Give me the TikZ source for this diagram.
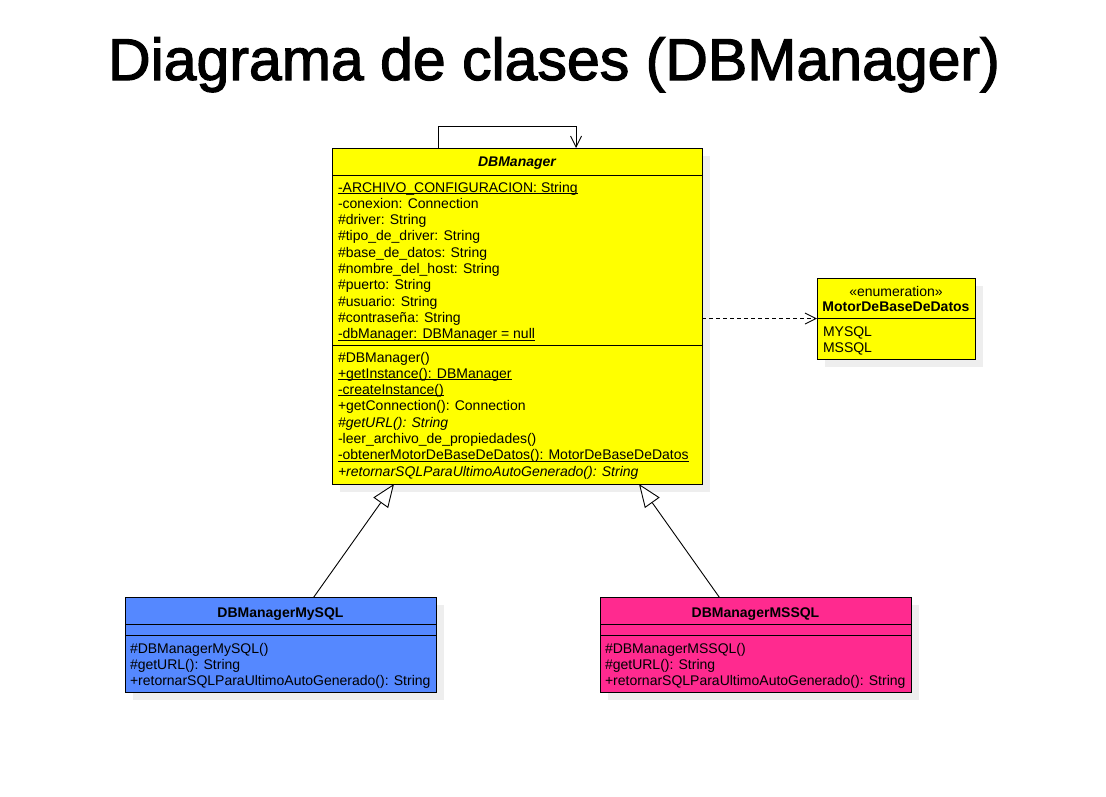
\documentclass[tikz,border=0pt]{standalone}
\usepackage{fontspec}
\setmainfont{Liberation Sans}
\newfontfamily\titlefont{Liberation Sans}[FakeBold=2]
\usetikzlibrary{arrows.meta}
\definecolor{umlyellow}{HTML}{FFFF00}
\definecolor{umlblue}{HTML}{5588FF}
\definecolor{umlpink}{HTML}{FF2A8F}
\definecolor{shadowgray}{HTML}{EEEEEE}
\newsavebox\myulbox
\newcommand\myul[1]{\sbox\myulbox{#1}\rlap{\rule[-1.7pt]{\wd\myulbox}{0.9pt}}\usebox\myulbox}
\begin{document}
\begin{tikzpicture}[x=1pt,y=-1pt,
  every node/.style={inner sep=0pt, outer sep=0pt},
  txt/.style={anchor=base west, font=\fontsize{14}{16}\selectfont},
  ctr/.style={anchor=base, font=\fontsize{14}{16}\selectfont},
  classbox/.style={draw=black, line width=1pt, anchor=north west},
  sepline/.style={draw=black, line width=1pt},
  conn/.style={draw=black, line width=0.9pt},
  barb/.style={-{Straight Barb[length=11pt,width=11pt,line width=0.9pt]}},
  gen/.style={-{Triangle[open,fill=white,length=23pt,width=18pt,line width=0.9pt]}},
]
\useasboundingbox (0,0) rectangle (1106,796);

% title
\node[anchor=base, font=\titlefont\fontsize{59}{65}\selectfont] (title) at (554,80) {Diagrama de clases (DBManager)};

% shadows
\fill[shadowgray] (340,156) rectangle (710,492);
\fill[shadowgray] (825,286) rectangle (983,367);
\fill[shadowgray] (133,605) rectangle (444,700);
\fill[shadowgray] (608,605) rectangle (919,700);

% DBManager
\node[classbox, fill=umlyellow, minimum width=370pt, minimum height=336pt] (dbm) at (332,148) {};
\draw[sepline] (332,175) -- (702,175);
\draw[sepline] (332,345) -- (702,345);
\node[ctr, font=\fontsize{14}{16}\selectfont\bfseries\itshape] (dbmname) at (517,166) {DBManager};
\foreach \t [count=\i] in {
  {\myul{-ARCHIVO\_CONFIGURACION: String}},
  {-conexion: Connection},
  {\#driver: String},
  {\#tipo\_de\_driver: String},
  {\#base\_de\_datos: String},
  {\#nombre\_del\_host: String},
  {\#puerto: String},
  {\#usuario: String},
  {\#contraseña: String},
  {\myul{-dbManager: DBManager = null}}}
  \node[txt] (attr\i) at (338,{192+16.3*(\i-1)}) {\t};
\foreach \t [count=\i] in {
  {\#DBManager()},
  {\myul{+getInstance(): DBManager}},
  {\myul{-createInstance()}},
  {+getConnection(): Connection},
  {\itshape\#getURL(): String},
  {-leer\_archivo\_de\_propiedades()},
  {\myul{-obtenerMotorDeBaseDeDatos(): MotorDeBaseDeDatos}},
  {\itshape +retornarSQLParaUltimoAutoGenerado(): String}}
  \node[txt] (meth\i) at (338,{362+16.3*(\i-1)}) {\t};

% Enumeration
\node[classbox, fill=umlyellow, minimum width=158pt, minimum height=81pt] (enum) at (817,278) {};
\draw[sepline] (817,318) -- (975,318);
\node[ctr] (enumst) at (896,296) {«enumeration»};
\node[ctr, font=\fontsize{14}{16}\selectfont\bfseries] (enumname) at (896,311) {MotorDeBaseDeDatos};
\node[txt] (enum1) at (823,336) {MYSQL};
\node[txt] (enum2) at (823,352) {MSSQL};

% DBManagerMySQL
\node[classbox, fill=umlblue, minimum width=311pt, minimum height=94.5pt] (mysql) at (125,597.5) {};
\draw[sepline] (125,624) -- (436,624);
\draw[sepline] (125,635.5) -- (436,635.5);
\node[ctr, font=\fontsize{14}{16}\selectfont\bfseries] (mysqlname) at (280.5,617) {DBManagerMySQL};
\node[txt] (my1) at (130,653) {\#DBManagerMySQL()};
\node[txt] (my2) at (130,669) {\#getURL(): String};
\node[txt] (my3) at (130,685) {+retornarSQLParaUltimoAutoGenerado(): String};

% DBManagerMSSQL
\node[classbox, fill=umlpink, minimum width=311pt, minimum height=94.5pt] (mssql) at (600,597.5) {};
\draw[sepline] (600,624) -- (911,624);
\draw[sepline] (600,635.5) -- (911,635.5);
\node[ctr, font=\fontsize{14}{16}\selectfont\bfseries] (mssqlname) at (755.5,617) {DBManagerMSSQL};
\node[txt] (ms1) at (605,653) {\#DBManagerMSSQL()};
\node[txt] (ms2) at (605,669) {\#getURL(): String};
\node[txt] (ms3) at (605,685) {+retornarSQLParaUltimoAutoGenerado(): String};

% connectors
\draw[conn, barb] ([xshift=-79pt]dbm.north) -- ++(0,-22) -| ([xshift=59pt]dbm.north);
\draw[conn, barb, dash pattern=on 4pt off 3pt] (dbm.east |- enum.west) -- (enum.west);
\draw[conn, gen] ([xshift=33pt]mysql.north) -- ([xshift=-123pt]dbm.south);
\draw[conn, gen] ([xshift=-36pt]mssql.north) -- ([xshift=122pt]dbm.south);
\end{tikzpicture}
\end{document}
